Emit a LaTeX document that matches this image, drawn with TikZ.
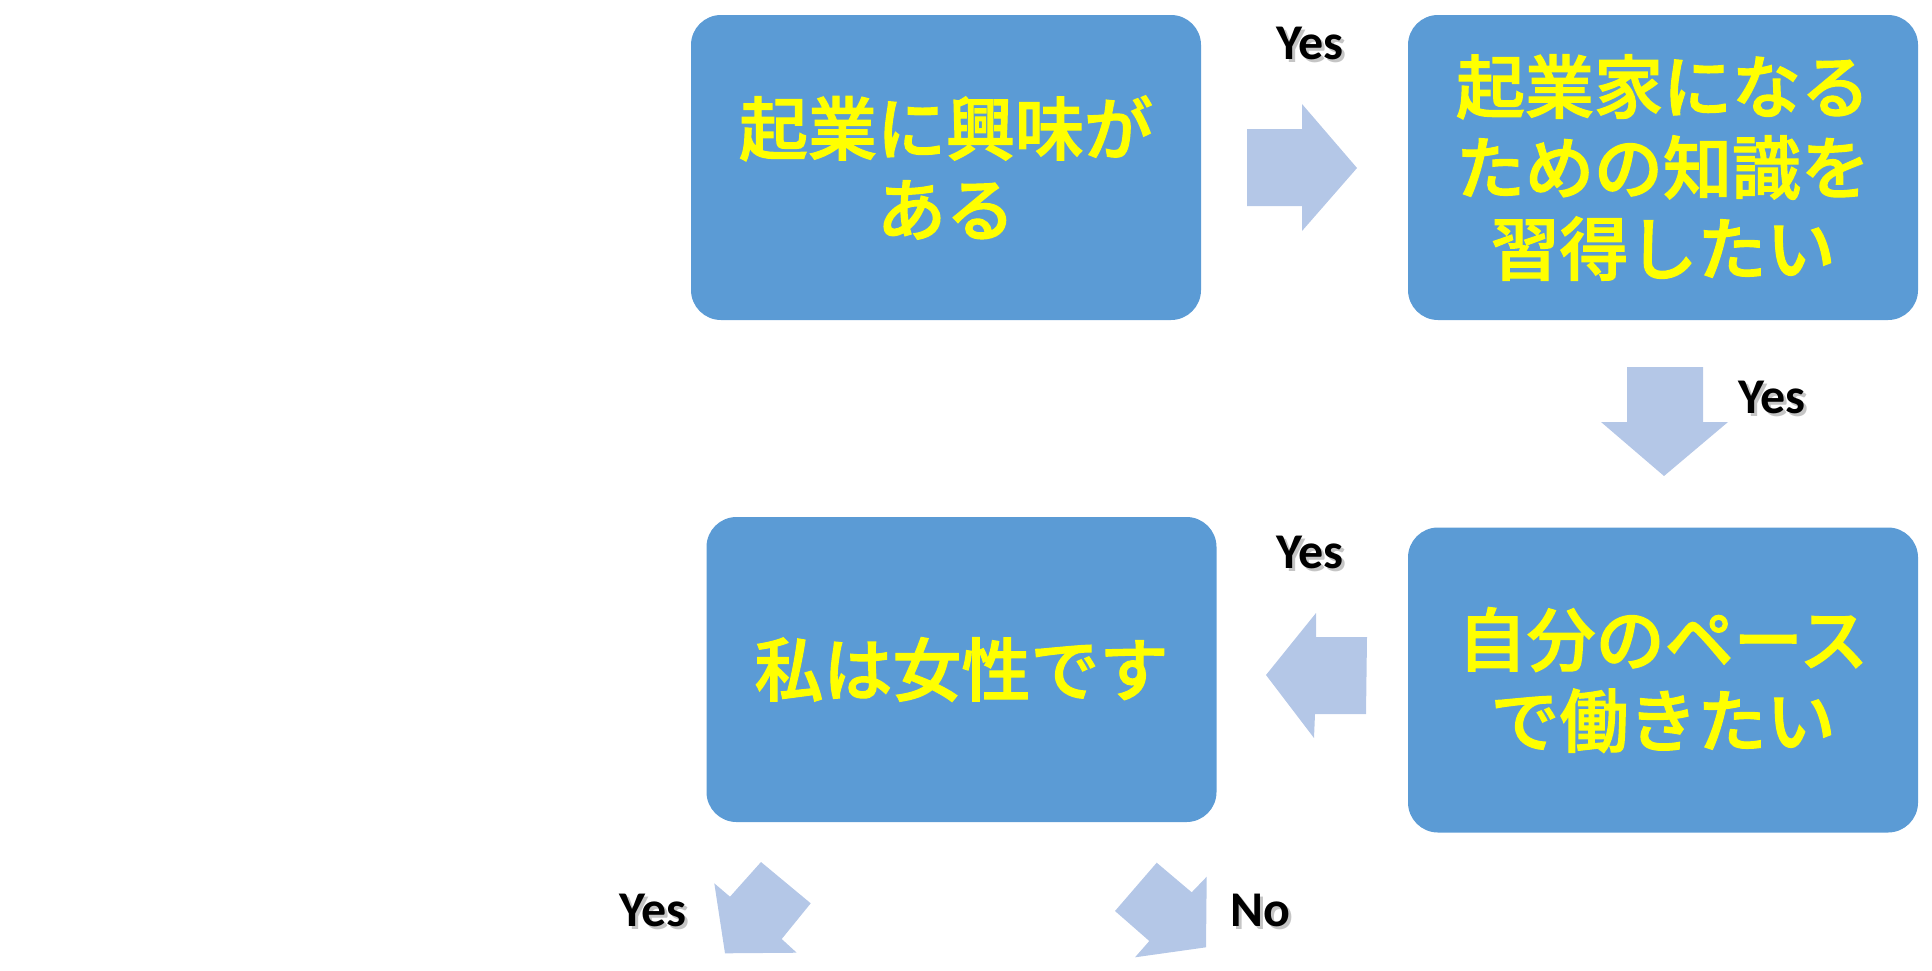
\documentclass[tikz,border=0pt]{standalone}
\usepackage{fontspec}
\newfontfamily\cjk[FakeBold=1.6]{Noto Sans CJK JP Medium}
\newfontfamily\lab{Carlito}
\definecolor{boxblue}{HTML}{5B9BD5}
\definecolor{arrowblue}{HTML}{B4C7E7}
\definecolor{txtyellow}{HTML}{FFFF00}
\tikzset{
  qbox/.style={fill=boxblue, rounded corners=30pt, minimum width=510pt, minimum height=305pt,
    inner sep=0pt, align=center, text=txtyellow, font=\cjk\fontsize{69}{81}\selectfont},
  blockarrow/.style={fill=arrowblue, draw=none},
  answer/.style={font=\lab\bfseries\fontsize{50}{50}\selectfont, text=black, inner sep=0pt},
  answershadow/.style={font=\lab\bfseries\fontsize{50}{50}\selectfont, text=black!45, opacity=0.5, inner sep=0pt}
}
\begin{document}
\begin{tikzpicture}[x=1pt,y=-1pt]
\useasboundingbox (0,0) rectangle (1932,970);
% boxes
\node[qbox] (b1) at (946,167.5) {起業に興味が\\ある};
\node[qbox] (b2) at (1663,167.5) {起業家になる\\ための知識を\\習得したい};
\node[qbox] (b3) at (1663,680) {自分のペース\\で働きたい};
\node[qbox] (b4) at (961.5,669.5) {私は女性です};
% block arrows
\draw[blockarrow] (1247,129) -- (1302,129) -- (1302,104) -- (1357,168) -- (1302,231) -- (1302,206) -- (1247,206) -- cycle;
\draw[blockarrow] (1627,367) -- (1703,367) -- (1703,422) -- (1728,422) -- (1664,476) -- (1601,422) -- (1627,422) -- cycle;
\draw[blockarrow] (1367,637) -- (1316,637) -- (1316,613) -- (1266,675) -- (1314,738) -- (1315,714) -- (1366,714) -- cycle;
\draw[blockarrow] (761,862) -- (810.7,903.3) -- (781.7,939) -- (796.7,952.7) -- (725,953.3) -- (714.3,883.3) -- (730,896.7) -- cycle;
\draw[blockarrow] (1156.7,862.7) -- (1191.7,892.3) -- (1206.7,876.7) -- (1206,947.3) -- (1135,957.3) -- (1149.3,941) -- (1115,911) -- cycle;
% labels
\foreach \n/\x/\y/\t in {y1/1310/43/Yes, y2/1772/397/Yes, y3/1310/552/Yes, y4/653/910/Yes, n1/1260/910/No}{
  \node[answershadow] (\n s) at (\x+3,\y+3) {\t};
  \node[answer] (\n) at (\x,\y) {\t};
}
\end{tikzpicture}
\end{document}
